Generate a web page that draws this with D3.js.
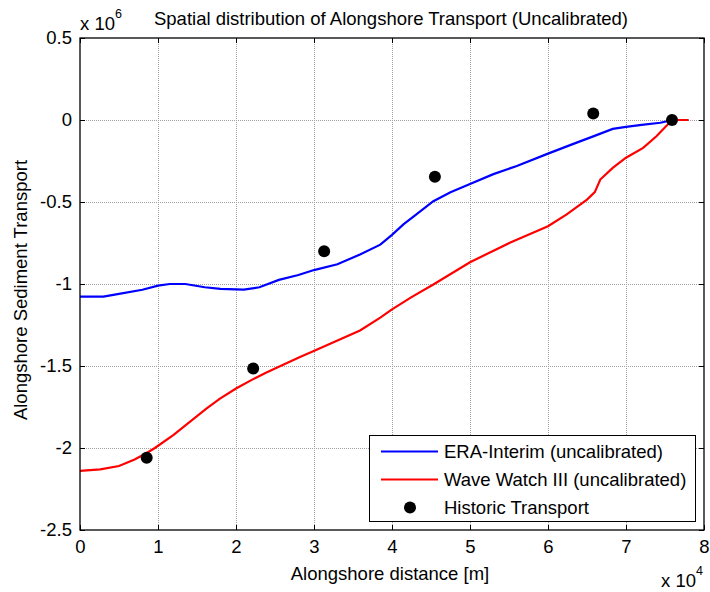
<!DOCTYPE html>
<html>
<head>
<meta charset="utf-8">
<script src="https://cdn.jsdelivr.net/npm/d3@7"></script>
<style>
  body { margin: 0; background: #fff; }
  svg { font-family: "Liberation Sans", Arial, sans-serif; }
</style>
</head>
<body>
<div id="chart"></div>
<script>
// alongshore distance [m] and transport values
var eraX = [0, 3000, 5000, 8000, 10000, 11500, 13500, 16000, 18000, 21000, 23000, 25500, 28000, 30000, 33000, 35900, 38500, 40000, 41500, 43000, 45300, 47500, 50000, 53000, 56000, 60000, 63000, 65800, 68300, 70000, 72000, 74400, 76000, 78000];
var eraY = [-1.077e6, -1.077e6, -1.06e6, -1.035e6, -1.01e6, -1.0e6, -1.0e6, -1.02e6, -1.03e6, -1.034e6, -1.02e6, -0.975e6, -0.945e6, -0.915e6, -0.88e6, -0.82e6, -0.76e6, -0.70e6, -0.635e6, -0.58e6, -0.495e6, -0.44e6, -0.39e6, -0.33e6, -0.28e6, -0.205e6, -0.15e6, -0.10e6, -0.054e6, -0.042e6, -0.03e6, -0.017e6, 0, 0];

var wwX = [0, 2600, 5000, 7000, 8550, 9600, 12000, 16200, 17900, 20000, 22200, 23900, 28200, 29900, 35900, 38500, 40000, 42500, 45300, 50000, 55100, 60000, 62400, 65000, 66000, 66700, 68300, 70000, 72200, 73900, 75900, 78000];
var wwY = [-2.14e6, -2.13e6, -2.11e6, -2.07e6, -2.03e6, -2.0e6, -1.92e6, -1.76e6, -1.70e6, -1.637e6, -1.58e6, -1.54e6, -1.445e6, -1.41e6, -1.283e6, -1.205e6, -1.155e6, -1.08e6, -1.003e6, -0.867e6, -0.749e6, -0.648e6, -0.576e6, -0.485e6, -0.44e6, -0.363e6, -0.292e6, -0.23e6, -0.17e6, -0.099e6, 0, 0];

var histX = [8550, 22200, 31300, 45500, 65800, 75900];
var histY = [-2.06e6, -1.515e6, -0.80e6, -0.346e6, 0.04e6, 0];

var xTicks = [0, 10000, 20000, 30000, 40000, 50000, 60000, 70000, 80000];
var yTicks = [-2.5e6, -2e6, -1.5e6, -1e6, -0.5e6, 0, 0.5e6];

var seriesNames = ["ERA-Interim (uncalibrated)", "Wave Watch III (uncalibrated)", "Historic Transport"];

(function () {
    var W = 710, H = 592;
    var margin = { left: 80, right: 704, top: 38, bottom: 530 };
    var fs = 18.5;

    var svg = d3.select("#chart").append("svg").attr("width", W).attr("height", H);

    var x = d3.scaleLinear().domain([0, 80000]).range([margin.left, margin.right]);
    var y = d3.scaleLinear().domain([-2.5e6, 0.5e6]).range([margin.bottom, margin.top]);

    // grid
    var grid = svg.append("g").attr("stroke", "#a0a0a0").attr("stroke-width", 1).attr("stroke-dasharray", "1,1");
    grid.selectAll(".gx").data(xTicks.slice(1, -1)).enter().append("line")
        .attr("x1", function (d) { return Math.round(x(d)) + 0.5; })
        .attr("x2", function (d) { return Math.round(x(d)) + 0.5; })
        .attr("y1", margin.top).attr("y2", margin.bottom);
    grid.selectAll(".gy").data(yTicks.slice(1, -1)).enter().append("line")
        .attr("y1", function (d) { return Math.round(y(d)) + 0.5; })
        .attr("y2", function (d) { return Math.round(y(d)) + 0.5; })
        .attr("x1", margin.left).attr("x2", margin.right);

    // curves
    var line = d3.line()
        .x(function (d) { return x(d[0]); })
        .y(function (d) { return y(d[1]); });

    svg.append("path").datum(d3.zip(eraX, eraY))
        .attr("fill", "none").attr("stroke", "#0000ff").attr("stroke-width", 2.2)
        .attr("d", line);
    svg.append("path").datum(d3.zip(wwX, wwY))
        .attr("fill", "none").attr("stroke", "#ff0000").attr("stroke-width", 2.2)
        .attr("d", line);

    svg.append("g").selectAll("circle").data(d3.zip(histX, histY)).enter().append("circle")
        .attr("cx", function (d) { return x(d[0]); })
        .attr("cy", function (d) { return y(d[1]); })
        .attr("r", 6).attr("fill", "#000");

    // axes, ticks inside on all four sides; plain hyphen for negatives like the original
    var fmtX = function (d) { return String(d / 1e4); };
    var fmtY = function (d) { return String(d / 1e6); };
    var noDomain = function (g) { g.select(".domain").remove(); };

    svg.append("g").attr("transform", "translate(0," + margin.bottom + ")")
        .call(d3.axisBottom(x).tickValues(xTicks).tickSize(-5).tickPadding(10).tickFormat(fmtX))
        .call(noDomain);
    svg.append("g").attr("transform", "translate(" + margin.left + ",0)")
        .call(d3.axisLeft(y).tickValues(yTicks).tickSize(-5).tickPadding(8).tickFormat(fmtY))
        .call(noDomain);
    svg.append("g").attr("transform", "translate(0," + margin.top + ")")
        .call(d3.axisTop(x).tickValues(xTicks).tickSize(-5).tickFormat(""))
        .call(noDomain);
    svg.append("g").attr("transform", "translate(" + margin.right + ",0)")
        .call(d3.axisRight(y).tickValues(yTicks).tickSize(-5).tickFormat(""))
        .call(noDomain);

    svg.selectAll(".tick text").attr("font-size", fs).attr("fill", "#000")
        .attr("font-family", "'Liberation Sans', Arial, sans-serif");
    svg.selectAll(".tick line").attr("stroke", "#000");

    svg.append("rect").attr("x", margin.left).attr("y", margin.top)
        .attr("width", margin.right - margin.left).attr("height", margin.bottom - margin.top)
        .attr("fill", "none").attr("stroke", "#000").attr("stroke-width", 1.3);

    // texts
    svg.append("text").attr("x", 391).attr("y", 25).attr("text-anchor", "middle")
        .attr("font-size", fs).text("Spatial distribution of Alongshore Transport (Uncalibrated)");

    svg.append("text").attr("x", 390).attr("y", 580).attr("text-anchor", "middle")
        .attr("font-size", fs).text("Alongshore distance [m]");

    svg.append("text").attr("transform", "translate(27,290) rotate(-90)").attr("text-anchor", "middle")
        .attr("font-size", fs).text("Alongshore Sediment Transport");

    var e6 = svg.append("text").attr("x", 80).attr("y", 30).attr("font-size", fs);
    e6.append("tspan").text("x 10");
    e6.append("tspan").attr("font-size", 12.5).attr("dy", -12).text("6");

    var e4 = svg.append("text").attr("x", 661).attr("y", 587).attr("font-size", fs);
    e4.append("tspan").text("x 10");
    e4.append("tspan").attr("font-size", 12.5).attr("dy", -12).text("4");

    // legend
    var lg = svg.append("g");
    lg.append("rect").attr("x", 369.5).attr("y", 435.5).attr("width", 326).attr("height", 86)
        .attr("fill", "#fff").attr("stroke", "#000").attr("stroke-width", 1);
    var legColors = ["#0000ff", "#ff0000", null];
    var rowY = [451.5, 479.5, 507.5];
    seriesNames.forEach(function (name, i) {
        if (legColors[i]) {
            lg.append("line").attr("x1", 381).attr("x2", 438).attr("y1", rowY[i]).attr("y2", rowY[i])
                .attr("stroke", legColors[i]).attr("stroke-width", 2.2);
        } else {
            lg.append("circle").attr("cx", 410).attr("cy", rowY[i]).attr("r", 6).attr("fill", "#000");
        }
        lg.append("text").attr("x", 444).attr("y", rowY[i] + 6.5).attr("font-size", fs).text(name);
    });
})();
</script>
</body>
</html>
